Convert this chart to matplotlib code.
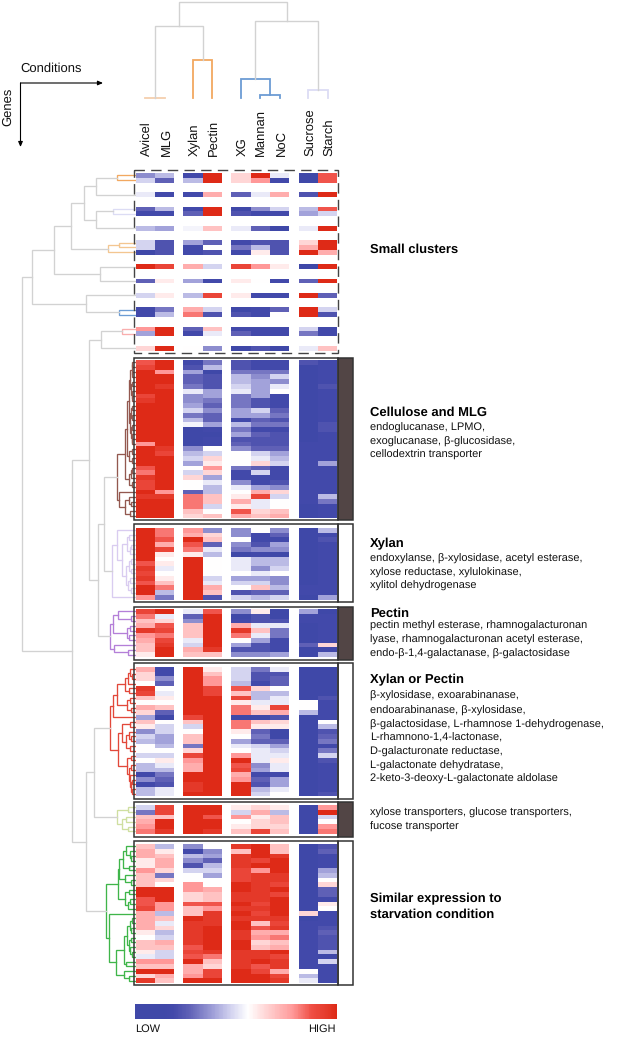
import numpy as np
import matplotlib
matplotlib.use("Agg")
import matplotlib.pyplot as plt
from matplotlib.colors import LinearSegmentedColormap
from matplotlib.patches import Rectangle

plt.rcParams['font.family'] = ['Liberation Sans', 'DejaVu Sans']
plt.rcParams['text.hinting'] = 'no_hinting'
plt.rcParams['text.hinting_factor'] = 1

conditions = ["Avicel", "MLG", "Xylan", "Pectin", "XG", "Mannan", "NoC", "Sucrose", "Starch"]

# expression level, -10 (low) .. 10 (high); columns follow `conditions`
small_rows = [0, 1, 4, 7, 8, 11, 14, 15, 16, 19, 22, 25, 28, 29, 32, 33, 36]
small_vals = [
    [-5, -3, -9, 10, 2, 10, -1, -10, 7],
    [-2, -7, -3, 10, 2, 5, -9, -10, 7],
    [-1, -9, -9, 4, -7, -1, 4, -8, 10],
    [-7, -3, -9, 10, -10, -5, -2, -3, 7],
    [-9, -9, -7, 10, -8, -9, -9, -4, -2],
    [-3, -4, -0.5, 3, -1, -7, -10, -1, 10],
    [-2, -8, -4, -7, -9, -8, -8, 2, 10],
    [-2, -8, -9, 0, -6, -3, -8, 4, 10],
    [-10, -8, -9, -8, -9, 1, -8, 10, 4],
    [10, 8, 4, -2, 8, 5, 1, -10, 10],
    [-7, 1, -4, -9, 1, 0, -9, -7, 10],
    [-2, 1, -3, 8, 1, -9, -9, 10, -7],
    [-9, -6, 4, -2, -10, -9, -7, 10, -2],
    [-9, -3, 6, -8, -8, -9, 0, 10, -8],
    [5, 10, -7, 3, -9, -9, -9, -2, -9],
    [-4, 10, -9, -1, -7, -9, -9, -6, -9],
    [2, 10, 0, -5, -10, -8, -10, -1, 3],
]
cellulose_vals = [
    [7, 10, -9, -6, -8, -9, -9, -8, -9],
    [8, 10, -8, -3, -8, -9, -9, -10, -9],
    [10, 5, -4, -10, -6, -6, -6, -10, -9],
    [10, 10, -7, -8, -3, -5, -2, -10, -9],
    [10, 10, -7, -8, -3, -4, -5, -10, -9],
    [10, 9, -6, -8, -2, -4, -1, -10, -8],
    [10, 10, -1, -4, -1, -4, 0, -10, -9],
    [8, 10, -5, -4, -6, -4, -9, -10, -9],
    [9, 10, -5, -6, -6, -8, -9, -10, -9],
    [10, 10, -4, -7, -6, -8, -9, -10, -9],
    [10, 10, -2, -5, -4, -2, -7, -10, -9],
    [10, 10, -6, -7, -4, -4, -6, -10, -9],
    [10, 10, -3, -7, -9, -7, -8, -10, -9],
    [10, 10, -0.5, -4, -3, -6, -6, -10, -8],
    [10, 10, -10, -9, -6, -9, -9, -10, -8],
    [10, 10, -10, -10, -4, -7, -8, -10, -9],
    [10, 10, -10, -9, -8, -8, -8, -10, -9],
    [5, 10, -10, -9, -7, -8, -8, -9, -9],
    [10, 9, -5, 0, -5, -7, -7, -9, -9],
    [10, 8, -3, -2, 0, -2, -4, -9, -9],
    [10, 10, -2, 2, 0, -1, -3, -9, -9],
    [10, 10, -4, 1, 0, 2, -2, -9, -4],
    [7, 10, 0, 5, -6, -7, -9, -9, -9],
    [6, 10, -2, 2, -9, -2, -9, -9, -9],
    [9, 10, 2, -4, -9, -9, -9, -9, -9],
    [8, 10, 0, -1, -5, -9, -8, -9, -9],
    [8, 10, 0, -3, -1, -4, -5, -9, -9],
    [10, 5, -7, -3, 0, 4, 2, -9, -9],
    [9, 9, 6, 3, 1, 8, -2, -9, -3],
    [10, 10, 6, 3, 4, -1, 0, -9, -6],
    [10, 10, 6, -2, 1, -1, 0, -10, -9],
    [10, 10, 3, 0, 7, 2, 3, -10, -9],
    [10, 10, 2, 3, 4, 3, 4, -10, -9],
]
xylan_vals = [
    [10, 6, 5, -5, -5, 0, -5, -10, -3],
    [10, 6, 4, 2, -5, -9, -7, -10, -9],
    [10, 7, 10, 3, 0, -9, -9, -10, -8],
    [10, 4, 7, -7, -5, -8, -4, -10, -9],
    [10, 8, 6, -1, -6, -5, -5, -10, -9],
    [10, 1, 1, -3, -10, -9, -10, -10, -9],
    [10, 0, 10, 0, -1, -3, -3, -10, -9],
    [7, 1, 10, 0, -1, -3, -3, -10, -9],
    [9, -1, 10, 0, -1, -5, -2, -10, -9],
    [8, 0, 10, 0, 0, -1, 0, -10, -9],
    [9, 1, 10, -2, -4, -4, -5, -10, -9],
    [7, 3, 10, -1, -2, -2, -5, -10, -9],
    [10, 6, 10, 4, 0, 3, -3, -9, -9],
    [10, -3, 10, 3, -8, -7, -7, -9, -9],
    [5, -6, 10, -8, -2, -3, -2, -10, -4],
]
pectin_vals = [
    [8, 10, -1, 7, -5, 1, -10, -4, -10],
    [6, -1, -7, 10, -10, -8, -10, -9, -9],
    [3, 2, -5, 10, -9, -8, -8, -9, -9],
    [4, 7, 3, 10, 4, -1, -1, -10, -9],
    [9, 8, 3, 10, 9, 3, -6, -10, -9],
    [5, 6, 3, 10, 6, -1, -6, -10, -9],
    [4, 8, -1, 10, 0, -4, -9, -10, -9],
    [3, 9, -2, 10, -4, -8, -9, -7, 2],
    [3, 10, 4, 9, -8, -8, -9, -10, -9],
    [1, 10, 3, 3, -5, -5, -4, -10, -3],
]
xorp_vals = [
    [4, -9, 10, 1, -2, -6, -1, -10, -10],
    [2, -9, 10, 3, -2, -8, -8, -10, -10],
    [2, -5, 10, 5, -2, -8, -7, -10, -10],
    [0, -7, 10, 5, -3, -9, -7, -10, -10],
    [9, 0, 10, 8, 7, 2, 0, -10, -10],
    [8, -1, 10, 8, 3, -3, -3, -10, -10],
    [3, 1, 10, 10, 8, -3, -1, -10, -8],
    [0, 0, 10, 10, 1, -1, -1, 0, -9],
    [4, 3, 10, 10, 6, 1, 8, 0, -9],
    [2, -7, 10, 10, 6, 3, 4, -3, -9],
    [-4, -10, 8, 10, -10, -10, -8, -10, -9],
    [3, 0, 3, 10, 6, 3, 2, -10, 0],
    [1, -2, -2, 10, 6, 1, 1, -10, -3],
    [-5, -2, 0, 10, 1, -7, -10, -10, -8],
    [-2, -4, 3, 10, 0, -6, -10, -10, -7],
    [-3, -4, 3, 10, -4, -7, -7, -10, -6],
    [0, -3, -6, 10, -1, -2, -4, -10, -9],
    [0, 0, 2, 10, 0, -1, -2, -10, -6],
    [-2, -2, 8, 10, 5, -1, -1, -10, -2],
    [0, 1, 5, 10, 10, -1, 1, -10, -8],
    [-3, -1, 4, 10, 7, -5, -1, -10, -9],
    [-3, -3, 4, 10, 8, -4, -1, -10, -9],
    [-9, -6, 10, 10, 4, -9, -9, -10, -9],
    [-5, -7, 10, 10, 5, -7, -4, -10, -9],
    [-9, -8, 9, 10, 10, -8, -4, -10, -9],
    [-3, -1, 9, 10, 10, -3, -1, -10, -9],
    [-3, -1, 10, 10, 10, -2, 0, -10, -8],
]
trans_vals = [
    [-2, 8, 10, 10, 1, 2, 1, -10, 5],
    [-6, 8, 10, 10, -2, 4, -3, -10, 10],
    [3, 3, 10, 7, 5, 1, 3, -10, -2],
    [4, 10, 10, 10, 0, 2, 3, -10, 0],
    [5, 10, 10, 10, 1, 2, 2, -10, 5],
    [6, 9, 10, 9, 3, 8, 3, -10, 6],
]
similar_vals = [
    [3, -3, -5, 0, 9, 10, 3, -10, -8],
    [4, 1, -9, -5, 3, 10, 3, -10, -7],
    [4, 3, -3, -4, 9, 10, 9, -10, -9],
    [1, 4, -5, -7, 9, 8, 10, -10, -9],
    [1, 4, -8, -3, 9, 10, 10, -10, -9],
    [5, 2, -2, -2, 8, 5, 10, -10, -4],
    [3, -6, 0, -4, 8, 9, 9, -10, -3],
    [3, 2, 0, 0, 8, 9, 9, -10, 0],
    [3, 0, 5, 0, 10, 9, 8, -10, 2],
    [10, 10, 5, 4, 10, 9, 10, -10, -7],
    [10, 10, 2, 3, 9, 9, 8, -10, -7],
    [7, 10, 2, 3, 9, 9, 10, -10, -9],
    [7, 5, 7, 7, 10, 8, 10, -10, 1],
    [8, 5, 3, 5, 9, 9, 10, -10, 0],
    [4, -3, 3, 9, 10, 8, 10, 2, -9],
    [4, 3, 10, 9, 9, 9, 9, -10, -9],
    [4, -1, 9, 9, 10, 3, 8, -9, -9],
    [4, 2, 9, 10, 10, 7, 9, -9, -8],
    [1, -3, 9, 10, 9, 4, 4, -9, -7],
    [0, -2, 9, 10, 9, 5, 6, -9, -8],
    [3, 4, 9, 10, 10, 2, 3, -9, -8],
    [3, 3, 7, 10, 10, 3, 4, -9, -8],
    [1, -2, 8, 9, 9, 9, 10, -9, -3],
    [-1, -2, 7, 6, 9, 9, 8, -9, -10],
    [5, 5, 10, 3, 9, 10, 9, -9, -2],
    [3, 3, 4, 2, 9, 7, 9, -9, -9],
    [10, 10, 4, 8, 10, 8, 4, 0, -9],
    [2, 4, 5, 8, 10, 10, 8, -3, -9],
    [9, 3, 10, 10, 10, 10, 9, -1, -9],
]

# dendrogram trees: (distance, child, child[, colour]); int = row, str = cluster
ORANGE, LAV, PEACH, BLUE, PINK = "#f2a860", "#dcdcf4", "#f3c690", "#6c9cd4", "#f9aeae"
gene_tree = (111,
    (101,
        (79,
            (62,
                (49,
                    (37, (16, 0, 1, ORANGE), 4),
                    (37.5, (20, 7, 8, LAV), 11)),
                (25, (14, 14, 15, PEACH), 16, PEACH)),
            (33, 19, 22)),
        (47, 25, (14, 28, 29, BLUE))),
    (61,
        (44,
            (32, (11, 32, 33, PINK), 36),
            (35, (29, "cellulose", "xylan"), "pectin")),
        (47, (39, "xorp", "trans"), "similar")))

cellulose_tree = (16,
    (8,
        (6,
            (4.5,
                (3, (1.5, (1, 0, 1), (1, 2, 3)), (2, (1, 4, 5), (1.5, 6, (1, 7, 8)))),
                (3.5, (2, (1, 9, 10), (1.5, 11, 12)), (2.5, (1, 13, 14), (1.5, 15, (1, 16, 17))))),
            (4, (1.5, 18, 19), (1.5, 20, 21))),
        (4, (2, (1, 22, 23), 24), (1.5, 25, 26))),
    (14, 27, (8, (4, 28, (2, 29, 30)), (3, 31, 32))))
xylan_tree = (21,
    (16, 0,
        (11,
            (6, (4, 1, 2), (3, (2, 3, 4), 5)),
            (7, (4, (2, 6, 7), (2, 8, 9)), (5, (3, 10, 11), (2, 12, 13))))),
    14)
pectin_tree = (23,
    (20, (15, 0, (2, 1, 2)), (6, (3, 3, 4), (4, 5, 6))),
    (19, 7, (5, 8, 9)))
xorp_tree = (23,
    (20.5,
        (16.5,
            (8, (5, (3, 0, (1, 1, 2)), 3), (4, 4, 5)),
            (6, (3, 6, 7), (2, 8, 9))),
        10),
    (15,
        (11, (3, 11, 12), (7, (4, 13, (2, 14, 15)), (3, 16, 17))),
        (6, (2, 18, 19), (4, (2, 20, 21), (3, 22, (2, (1, 23, 24), (1.5, 25, 26)))))))
trans_tree = (16, (5, 0, 1), (11, (7, 2, 3), (5, 4, 5)))
similar_tree = (27,
    (15,
        (14,
            (10, (7, 0, (3, 1, (2, 2, 3))), (4, 4, 5)),
            (8, 6, (2, 7, 8))),
        (8, (4, 9, 10), (5, (3, 11, 12), 13))),
    (24, 14,
        (17,
            (9,
                (6, (3, (1.5, 15, 16), (2, 17, 18)), (4, (2, 19, 20), (3, 21, (1, 22, 23)))),
                (7, 24, 25)),
            (9, 26, (4, 27, 28)))))

condition_tree = (96,
    (72, (0.5, 0, 1, "#f5cfae"), (38, 2, 3, ORANGE)),
    (77, (19, 4, (3, 5, 6, BLUE), BLUE), (8, 7, 8, LAV)))

clusters = {
    "cellulose": dict(vals=cellulose_vals, tree=cellulose_tree, top=360.0, color="#93584f", side=True),
    "xylan":     dict(vals=xylan_vals, tree=xylan_tree, top=527.7, color="#d9ccf0", side=False),
    "pectin":    dict(vals=pectin_vals, tree=pectin_tree, top=609.0, color="#b47fd8", side=True),
    "xorp":      dict(vals=xorp_vals, tree=xorp_tree, top=666.7, color="#e2483a", side=False),
    "trans":     dict(vals=trans_vals, tree=trans_tree, top=805.0, color="#cfdfa0", side=True),
    "similar":   dict(vals=similar_vals, tree=similar_tree, top=844.0, color="#3fb54a", side=False),
}

ROW_H = 4.8
COL_W = 19.35
SMALL_TOP = 173.0
GROUPS = [(135.7, [0, 1]), (183.3, [2, 3]), (231.3, [4, 5, 6]), (298.7, [7, 8])]
col_center = {}
for left, idx in GROUPS:
    for k, c in enumerate(idx):
        col_center[c] = left + (k + 0.5) * COL_W

cmap = LinearSegmentedColormap.from_list("lowhigh", [
    (0.00, "#3f48a8"), (0.06, "#4349aa"), (0.15, "#5f60b6"), (0.30, "#a3a3da"), (0.40, "#d4d4f0"),
    (0.50, "#ffffff"), (0.60, "#ffd6d6"), (0.75, "#ff9a9a"), (0.86, "#ef4e44"), (0.95, "#e43a2a"), (1.00, "#de2a17")])
cmap.set_bad("white")

fig = plt.figure(figsize=(6.17, 10.37), dpi=100)
ax = fig.add_axes([0, 0, 1, 1])
ax.set_xlim(0, 617)
ax.set_ylim(1037, 0)
ax.axis("off")


def draw_heat(matrix, top):
    m = np.ma.masked_invalid(np.array(matrix, dtype=float))
    y_edges = top + ROW_H * np.arange(m.shape[0] + 1)
    for left, idx in GROUPS:
        x_edges = left + COL_W * np.arange(len(idx) + 1)
        ax.pcolormesh(x_edges, y_edges, m[:, idx], cmap=cmap, vmin=-10, vmax=10,
                      edgecolors="none", antialiased=False, zorder=2)


GRAY = "#d2d2d2"
BASE_X = 133.0


def draw_gene(node, top, color):
    """Returns (x, y) of a node, drawing its bracket."""
    if isinstance(node, str):
        cl = clusters[node]
        return draw_gene(cl["tree"], cl["top"], cl["color"])
    if not isinstance(node, tuple):
        return 135.0, top + ROW_H * (node + 0.5)
    c = node[3] if len(node) > 3 else color
    xa, ya = draw_gene(node[1], top, c)
    xb, yb = draw_gene(node[2], top, c)
    x = BASE_X - node[0]
    ax.plot([xa, x, x, xb], [ya, ya, yb, yb], color=c, lw=0.95,
            solid_joinstyle="miter", zorder=1)
    return x, (ya + yb) / 2


def draw_cond(node, color):
    if not isinstance(node, tuple):
        return col_center[node], 98.0
    c = node[3] if len(node) > 3 else color
    xa, ya = draw_cond(node[1], c)
    xb, yb = draw_cond(node[2], c)
    y = 98.0 - node[0]
    lw = 1.3 if c != GRAY else 1.0
    ax.plot([xa, xa, xb, xb], [ya, y, y, yb], color=c, lw=lw,
            solid_joinstyle="miter", zorder=1)
    return (xa + xb) / 2, y


# heatmaps
small = np.full((37, 9), np.nan)
small[small_rows] = np.array(small_vals, dtype=float)
draw_heat(small, SMALL_TOP)
for cl in clusters.values():
    draw_heat(cl["vals"], cl["top"])

# dendrograms
draw_gene(gene_tree, SMALL_TOP, GRAY)
draw_cond(condition_tree, GRAY)

# frames
FRAME_L, FRAME_R, SIDE_R = 134.3, 338.3, 353.0
ax.add_patch(Rectangle((FRAME_L, 169.8), FRAME_R - FRAME_L, 183.5, fill=False, ec="#444444",
                       lw=1.0, ls=(0, (7.5, 4.5)), zorder=4))
FRAME_PAD = {"cellulose": (1.7, 2.0), "xylan": (3.4, 2.6), "pectin": (2.3, 2.7),
             "xorp": (3.4, 3.0), "trans": (2.7, 2.9), "similar": (3.3, 2.2)}
for name, cl in clusters.items():
    top = cl["top"] - FRAME_PAD[name][0]
    bottom = cl["top"] + ROW_H * len(cl["vals"]) + FRAME_PAD[name][1]
    ax.add_patch(Rectangle((FRAME_R, top), SIDE_R - FRAME_R, bottom - top,
                           fc="#524545" if cl["side"] else "white", ec="#333333", lw=1.1, zorder=4))
    ax.add_patch(Rectangle((FRAME_L, top), FRAME_R - FRAME_L, bottom - top,
                           fill=False, ec="#333333", lw=1.1, zorder=4))

# condition labels
for i, name in enumerate(conditions):
    ax.text(col_center[i] + 1.5, 156.5, name, rotation=90, ha="center", va="bottom",
            fontsize=9.4, color="#111111")

# axes hint
ax.text(20, 69, "Conditions", fontsize=9.3, va="center", ha="left", color="#111111")
ax.text(8, 107, "Genes", fontsize=9.3, va="center", ha="center", rotation=90, color="#111111")
arrow = dict(arrowstyle="-|>,head_width=0.13,head_length=0.3", color="black", lw=0.8,
             shrinkA=0, shrinkB=0)
ax.annotate("", xy=(103, 83), xytext=(20.5, 83), arrowprops=arrow)
ax.annotate("", xy=(20.5, 147), xytext=(20.5, 83), arrowprops=arrow)

# right-hand annotations
TX = 370
heads = [(250, "Small clusters"), (412.7, "Cellulose and MLG"), (544, "Xylan"), (614, "Pectin"),
         (680, "Xylan or Pectin"), (899, "Similar expression to"), (915, "starvation condition")]
body = [
    (428, "endoglucanase, LPMO,"), (441.5, "exoglucanase, β-glucosidase,"), (455, "cellodextrin transporter"),
    (559, "endoxylanse, β-xylosidase, acetyl esterase,"), (572.5, "xylose reductase, xylulokinase,"),
    (586, "xylitol dehydrogenase"),
    (626, "pectin methyl esterase, rhamnogalacturonan"), (640, "lyase, rhamnogalacturonan acetyl esterase,"),
    (654, "endo-β-1,4-galactanase, β-galactosidase"),
    (696, "β-xylosidase, exoarabinanase,"), (711, "endoarabinanase, β-xylosidase,"),
    (725, "β-galactosidase, L-rhamnose 1-dehydrogenase,"), (738, "L-rhamnono-1,4-lactonase,"),
    (752, "D-galacturonate reductase,"), (766, "L-galactonate dehydratase,"),
    (779, "2-keto-3-deoxy-L-galactonate aldolase"),
    (813, "xylose transporters, glucose transporters,"), (827, "fucose transporter"),
]
for y, t in heads:
    ax.text(TX, y, t, fontsize=9.4, fontweight="bold", va="center", ha="left", color="black")
for y, t in body:
    ax.text(TX, y, t, fontsize=8.2, va="center", ha="left", color="#111111")

# colour scale
scale_pos = [0.0, 0.14, 0.56, 1.0]
scale_val = [-10, -10, 0, 10]
grad = np.interp(np.linspace(0, 1, 256), scale_pos, scale_val)[None, :]
ax.pcolormesh(np.linspace(135, 337, 257), [1004.3, 1019], grad, cmap=cmap, vmin=-10, vmax=10)
ax.text(135.5, 1029, "LOW", fontsize=8.2, va="center", ha="left", color="#111111")
ax.text(336, 1029, "HIGH", fontsize=8.2, va="center", ha="right", color="#111111")

fig.savefig("out.png", dpi=100, facecolor="white")
